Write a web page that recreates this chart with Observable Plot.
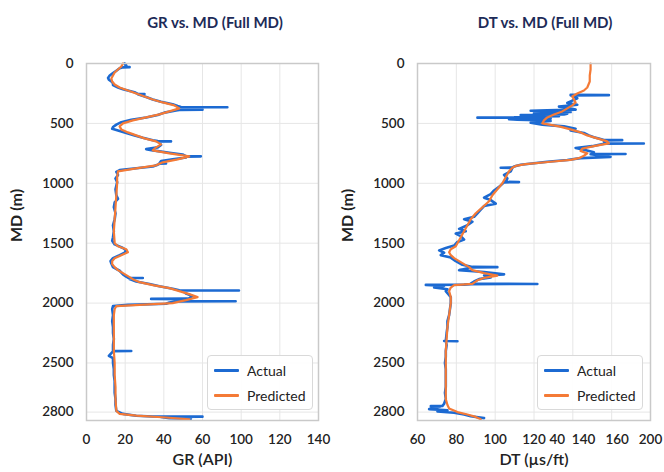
<!DOCTYPE html>
<html>
<head>
<meta charset="utf-8">
<script src="https://cdn.jsdelivr.net/npm/d3@7"></script>
<script src="https://cdn.jsdelivr.net/npm/@observablehq/plot@0.6"></script>
<style>
  html, body { margin: 0; padding: 0; background: #fff; }
  #wrap { position: relative; width: 664px; height: 472px; font-family: Lato, "Open Sans", sans-serif; overflow: hidden; }
  .panel { position: absolute; top: 0; width: 332px; height: 472px; }
  .title { position: absolute; top: 12px; transform: translateX(-50%); white-space: nowrap;
           font-size: 15px; font-weight: 700; color: #1d2b58; line-height: 20px; }
  .chart { position: absolute; top: 40px; left: 0; }
  .legend { position: absolute; width: 106px; height: 55px; border: 1px solid #d9d9d9; border-radius: 4px;
            background: rgba(255,255,255,0.9); box-sizing: border-box; }
  .legend .row { position: absolute; left: 6px; height: 18px; display: flex; align-items: center; font-size: 14px; color: #222; }
  .legend .sw { width: 25px; height: 3px; margin-right: 8px; border-radius: 1px; }
</style>
</head>
<body>
<div id="wrap"></div>
<script>
// ---------- DATA ----------
const seriesNames = ["Actual", "Predicted"];
const seriesColors = ["#1c6ad2", "#f47a36"];
const titles = ["GR vs. MD (Full MD)", "DT vs. MD (Full MD)"];
const xLabels = ["GR (API)", "DT (\u00b5s/ft)"];
const yLabel = "MD (m)";

const yTickValues = [0, 500, 1000, 1500, 2000, 2500, 2910];
const yTickLabels = ["0", "500", "1000", "1500", "2000", "2500", "2800"];
const yDomain = [0, 2980];

// GR axis: gridlines and the labels printed on them
const grGridValues = [0, 23.33, 46.67, 70, 93.33, 116.67, 140];
const grTickValues = [0, 23.33, 46.67, 70, 93.33, 116.67, 140];
const grTickLabels = ["0", "20", "40", "60", "100", "120", "140"];
// DT axis: gridlines and the labels printed under them
const dtGridValues = [60, 83.33, 106.67, 130, 153.33, 176.67, 200];
const dtTickValues = [60, 83.33, 106.67, 130, 144, 159.8, 180, 200];
const dtTickLabels = ["60", "80", "100", "120", "40", "140", "160", "200"];

// GR predicted
const grPredMd = [0,25,50,75,100,125,150,175,200,225,250,275,300,325,350,375,400,425,450,475,500,525,550,575,600,625,650,675,700,725,750,775,800,825,850,875,900,950,1000,1100,1200,1300,1400,1500,1525,1550,1575,1600,1625,1650,1675,1700,1725,1750,1775,1800,1825,1850,1875,1900,1925,1950,1975,2000,2012,2025,2050,2100,2200,2300,2400,2500,2600,2700,2800,2900,2925,2940,2955,2970];
const grPred = [22,21,19,17,16,15,15.5,17,20,25,30,35,40,46,53,56,50,44,36,28,22,20,21,25,30,35,42,45,42,40,50,62,55,46,42,30,19,18.5,18.5,18,17.5,17,16.5,17,19,24,25,21,17,15.5,15.5,17,19,22,25,28,32,40,50,56,62,67,60,52,35,18,17,16.5,16.5,16.5,16.5,17,17,17.5,17.5,18,20,30,48,62];

// GR actual
const grActMd = [0,15,28,30,32,40,60,80,100,120,135,150,165,180,200,215,240,253,255,257,280,300,320,340,355,363,365,367,383,385,387,392,410,430,450,470,490,510,530,545,560,580,600,620,640,648,650,652,660,680,700,715,725,745,760,773,775,777,785,800,815,833,835,837,845,860,875,890,905,930,960,990,1020,1050,1100,1130,1160,1200,1250,1300,1350,1400,1450,1480,1510,1540,1560,1580,1600,1625,1650,1670,1700,1730,1760,1780,1788,1790,1792,1800,1820,1840,1860,1880,1893,1895,1897,1920,1940,1960,1963,1965,1967,1983,1985,1987,1995,2005,2015,2025,2050,2100,2150,2200,2250,2300,2350,2398,2400,2402,2440,2460,2500,2550,2600,2650,2700,2750,2800,2850,2900,2925,2940,2946,2948,2950,2960,2965];
const grAct = [23,24,23,26,22,20,18,16,14,13,13.5,15,16,16,19,22,29,31,35,31,36,40,45,52,55,57,85,58,60,70,56,54,47,43,36,27,21,18,16,15.5,19,24,29,34,40,43,51,44,44,45,43,36,40,50,58,60,69,60,60,52,45,44,48,44,43,40,30,20,18,19,17.5,18.5,18,17.5,18,19,17,16.5,17.5,17,16,16.5,16,15.5,17,22,24,23,20,16,14.5,15,16,20,22,24,25,34,26,26,30,38,44,52,56,92,58,60,64,62,61,39,60,55,90,54,50,48,25,16,15.5,16,15.5,16,16,16.5,16,16,27,16,13.5,16,16,16.5,16.5,17,17,17,17.5,17.5,18,22,30,40,70,45,50,63];

// DT predicted
const dtPredMd = [0,50,100,150,200,225,250,275,300,325,350,375,400,425,450,475,500,525,550,575,600,625,650,667,690,710,730,750,770,790,805,820,840,855,870,900,950,1000,1050,1100,1150,1200,1250,1300,1350,1400,1450,1500,1525,1550,1575,1600,1625,1650,1675,1700,1725,1750,1770,1790,1810,1840,1850,1870,1900,1950,2000,2100,2200,2300,2400,2500,2600,2700,2800,2850,2880,2910,2930,2950,2970];
const dtPred = [164,164,163.5,163.5,162,160,156,153,154,155,153,150,147,142,138,136,135,145,152,158,162,168,174,175,166,159,158,162,160,157,152,140,125,119,117,115,113,111,108,105,103,99,95,92,90,88,86,84,83,80,79,80,82,85,88,91,93,100,108,100,96,93,82,80,79,80,80,79,78,77.5,77,77,77,77,77,78,79,84,90,95,98];

// DT actual
const dtActMd = [262,264,266,290,310,330,345,360,375,385,390,395,400,405,410,415,420,425,430,435,440,445,450,452,454,460,465,470,475,480,495,510,525,545,560,580,600,615,630,638,640,642,650,666,668,670,690,705,720,740,753,755,757,780,790,805,820,845,860,868,870,872,900,930,960,988,990,992,1030,1060,1090,1120,1140,1170,1190,1220,1250,1280,1300,1320,1350,1380,1400,1420,1440,1470,1490,1520,1540,1560,1580,1600,1620,1650,1680,1698,1700,1702,1725,1740,1760,1770,1785,1800,1820,1838,1840,1842,1846,1848,1856,1870,1885,1900,1950,2000,2050,2100,2150,2200,2250,2315,2316,2318,2319,2350,2400,2450,2500,2550,2600,2650,2700,2750,2800,2840,2858,2860,2862,2885,2895,2905,2915,2930,2945,2960];
const dtAct = [152,175,152,156,153,150,156,145,152,155,138,128,148,152,132,130,150,148,122,135,145,125,118,96,128,140,115,120,138,140,128,135,148,155,152,160,163,166,170,172,183,172,172,173,196,172,165,155,160,166,165,185,164,176,158,150,138,122,118,117,110,117,116,112,114,113,121,112,109,106,104,100,104,107,100,98,96,94,88,93,90,85,89,83,86,88,84,82,77,73,76,74,80,83,87,93,108,92,85,100,112,100,104,97,94,92,132,92,88,65,76,70,78,77,80,80,79.5,79,78,78,77.5,77,76,84,77,77.5,77,77,76.5,77,77,77,77,76.5,77,76,75,68,74,67,78,72,82,88,92,100];

// ---------- BUILD ----------
function toRows(mdArr, valArr) {
  return mdArr.map((md, i) => ({md, v: valArr[i]}));
}

const panels = [
  {left: 0, marginLeft: 86, marginRight: 14, xDomain: [0, 140], grid: grGridValues, ticks: grTickValues, labels: grTickLabels,
   act: toRows(grActMd, grAct), pred: toRows(grPredMd, grPred), title: titles[0], titleX: 215, xLabel: xLabels[0], legendLeft: 207},
  {left: 332, marginLeft: 85, marginRight: 14, xDomain: [60, 200], grid: dtGridValues, ticks: dtTickValues, labels: dtTickLabels,
   act: toRows(dtActMd, dtAct), pred: toRows(dtPredMd, dtPred), title: titles[1], titleX: 213, xLabel: xLabels[1], legendLeft: 205}
];

const wrap = document.getElementById("wrap");

panels.forEach(p => {
  const panel = document.createElement("div");
  panel.className = "panel";
  panel.style.left = p.left + "px";

  const t = document.createElement("div");
  t.className = "title";
  t.style.left = p.titleX + "px";
  t.textContent = p.title;
  panel.appendChild(t);

  const chart = Plot.plot({
    width: 332,
    height: 432,
    marginLeft: p.marginLeft,
    marginRight: p.marginRight,
    marginTop: 23,
    marginBottom: 52,
    style: {fontFamily: "Lato, 'Open Sans', sans-serif", fontSize: "13.5px", color: "#222", background: "transparent"},
    x: {domain: p.xDomain, label: null},
    y: {domain: yDomain, reverse: true, label: null},
    marks: [
      Plot.gridX(p.grid, {stroke: "#e6e6e6", strokeOpacity: 1, strokeWidth: 1}),
      Plot.gridY(yTickValues, {stroke: "#e6e6e6", strokeOpacity: 1, strokeWidth: 1}),
      Plot.line(p.act, {x: "v", y: "md", stroke: seriesColors[0], strokeWidth: 2.6, strokeLinejoin: "round"}),
      Plot.line(p.pred, {x: "v", y: "md", stroke: seriesColors[1], strokeWidth: 2.2, strokeLinejoin: "round"}),
      Plot.frame({stroke: "#c9c9c9", strokeWidth: 1.5}),
      Plot.axisX(p.ticks, {tickSize: 0, tickPadding: 14, label: null, fontWeight: 600,
        tickFormat: (d, i) => p.labels[i]}),
      Plot.axisY(yTickValues, {tickSize: 0, tickPadding: 13, label: null, fontWeight: 600,
        tickFormat: (d, i) => yTickLabels[i]}),
      Plot.text([p.xLabel], {frameAnchor: "bottom", dy: 44, fontSize: 16, fontWeight: 600, fill: "#222"}),
      Plot.text([yLabel], {frameAnchor: "left", dx: -70, rotate: -90, fontSize: 16, fontWeight: 700, fill: "#222"})
    ]
  });
  chart.classList.add("chart");
  panel.appendChild(chart);

  const lg = document.createElement("div");
  lg.className = "legend";
  lg.style.left = p.legendLeft + "px";
  lg.style.top = "355px";
  seriesNames.forEach((name, i) => {
    const row = document.createElement("div");
    row.className = "row";
    row.style.top = (5 + i * 25) + "px";
    const sw = document.createElement("div");
    sw.className = "sw";
    sw.style.background = seriesColors[i];
    const tx = document.createElement("span");
    tx.textContent = name;
    row.appendChild(sw);
    row.appendChild(tx);
    lg.appendChild(row);
  });
  panel.appendChild(lg);

  wrap.appendChild(panel);
});
</script>
</body>
</html>
